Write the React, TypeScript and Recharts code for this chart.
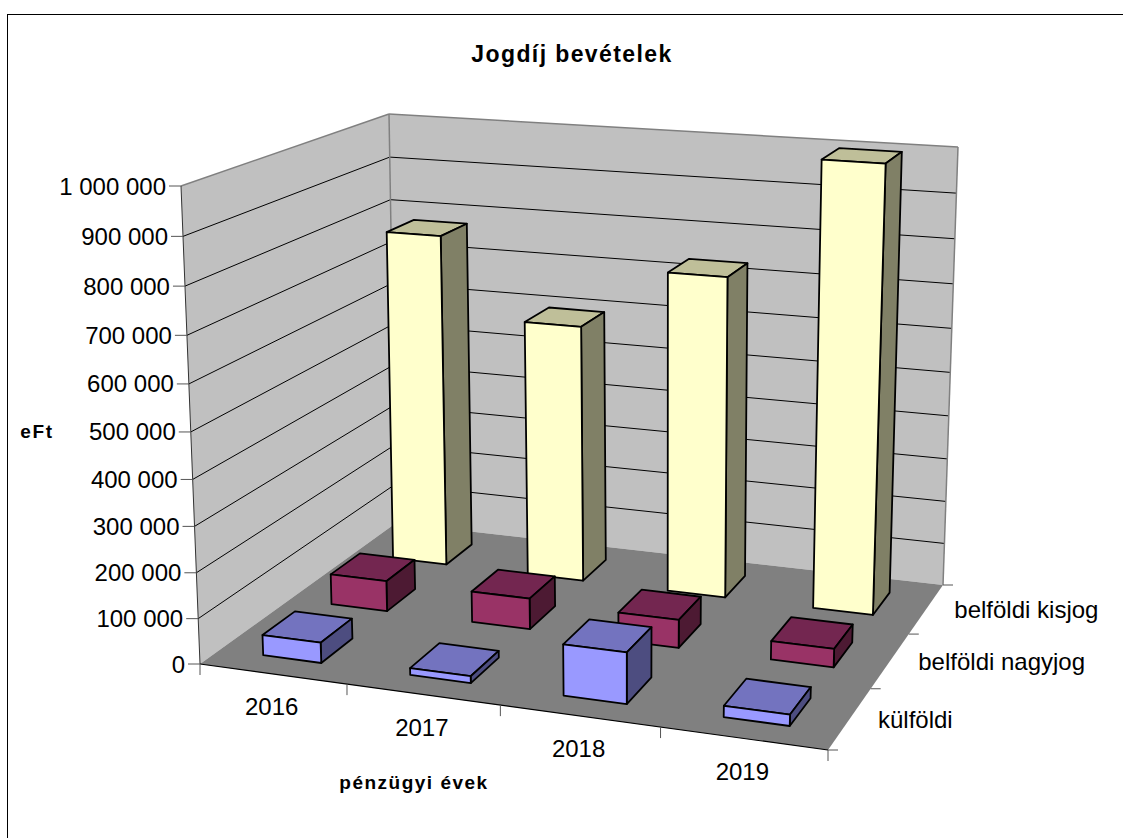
import React from 'react'
import { BarChart, Bar, XAxis, YAxis } from 'recharts'

const years = ['2016', '2017', '2018', '2019']
const kulfoldi = [45000, 15000, 110000, 24000]
const nagyjog = [70000, 70000, 63000, 41000]
const kisjog = [775000, 595000, 732000, 998000]
const valueTicks = [0, 100000, 200000, 300000, 400000, 500000, 600000, 700000, 800000, 900000, 1000000]
const seriesNames = ['külföldi', 'belföldi nagyjog', 'belföldi kisjog']

const data = years.map((year, i) => ({
  year,
  kulfoldi: kulfoldi[i],
  nagyjog: nagyjog[i],
  kisjog: kisjog[i],
}))

const W = 1123
const H = 838
const PLOT = { left: 100, top: 100, width: 900, height: 600 }
const MAX = 1000000
const FONT = 'Liberation Sans, Arial, sans-serif'
const LABEL_SIZE = 24

type Pt = [number, number]

// screen corners of the 3D box: u along years, v into depth
const FLOOR: Pt[] = [[200, 664], [828, 750], [943, 585], [396, 523]]
const TOP: Pt[] = [[181, 186], [846, 236], [958, 147], [389, 114]]

const quadMap = (q: Pt[]) => {
  const [[x0, y0], [x1, y1], [x2, y2], [x3, y3]] = q
  const sx = x0 - x1 + x2 - x3
  const sy = y0 - y1 + y2 - y3
  const dx1 = x1 - x2
  const dx2 = x3 - x2
  const dy1 = y1 - y2
  const dy2 = y3 - y2
  const den = dx1 * dy2 - dx2 * dy1
  const g = (sx * dy2 - dx2 * sy) / den
  const h = (dx1 * sy - sx * dy1) / den
  return (u: number, v: number): Pt => {
    const w = g * u + h * v + 1
    return [
      ((x1 - x0 + g * x1) * u + (x3 - x0 + h * x3) * v + x0) / w,
      ((y1 - y0 + g * y1) * u + (y3 - y0 + h * y3) * v + y0) / w,
    ]
  }
}

const floorAt = quadMap(FLOOR)
const topAt = quadMap(TOP)

// heights get slightly stretched towards the top, like the original perspective
const project = (u: number, v: number, h: number): Pt => {
  const a = floorAt(u, v)
  const b = topAt(u, v)
  const t = h / (1 + 0.06 * (1 - h))
  return [a[0] + (b[0] - a[0]) * t, a[1] + (b[1] - a[1]) * t]
}

const poly = (pts: Pt[]) => pts.map((p) => p.join(',')).join(' ')

const Seg = ({ a, b, stroke = '#000', w = 1 }: { a: Pt; b: Pt; stroke?: string; w?: number }) => (
  <line x1={a[0]} y1={a[1]} x2={b[0]} y2={b[1]} stroke={stroke} strokeWidth={w} />
)

const Walls = () => (
  <g>
    <polygon points={poly([project(0, 0, 0), project(0, 1, 0), project(0, 1, 1), project(0, 0, 1)])} fill="#C0C0C0" />
    <polygon points={poly([project(0, 1, 0), project(1, 1, 0), project(1, 1, 1), project(0, 1, 1)])} fill="#C0C0C0" />
    <polygon points={poly([project(0, 0, 0), project(1, 0, 0), project(1, 1, 0), project(0, 1, 0)])} fill="#808080" />
    {valueTicks.slice(1, -1).map((t) => (
      <g key={t}>
        <Seg a={project(0, 0, t / MAX)} b={project(0, 1, t / MAX)} />
        <Seg a={project(0, 1, t / MAX)} b={project(1, 1, t / MAX)} />
      </g>
    ))}
    <Seg a={project(0, 0, 1)} b={project(0, 1, 1)} stroke="#808080" w={1.5} />
    <Seg a={project(0, 1, 1)} b={project(1, 1, 1)} stroke="#808080" w={1.5} />
    <Seg a={project(0, 1, 0)} b={project(0, 1, 1)} stroke="#808080" w={1.5} />
    <Seg a={project(1, 1, 0)} b={project(1, 1, 1)} stroke="#808080" w={1.5} />
    <Seg a={project(0, 0, 0)} b={project(0, 0, 1)} stroke="#333" />
    <Seg a={project(0, 0, 0)} b={project(1, 0, 0)} stroke="#000" w={1.2} />
    {years.concat('').map((_, i) => {
      const p = project(i / years.length, 0, 0)
      return <Seg key={i} a={p} b={[p[0], p[1] + 11]} stroke="#555" />
    })}
    {seriesNames.concat('').map((_, i) => {
      const p = project(1, i / seriesNames.length, 0)
      return <Seg key={i} a={p} b={[p[0] + 10, p[1]]} stroke="#555" />
    })}
    {seriesNames.map((name, i) => {
      const p = project(1, (i + 0.5) / seriesNames.length, 0)
      return (
        <text key={name} x={p[0] + 28} y={p[1] + 1} fontFamily={FONT} fontSize={LABEL_SIZE} dominantBaseline="central" fill="#000">
          {name}
        </text>
      )
    })}
  </g>
)

const YearTick = ({ x, payload }: any) => {
  const [px, py] = project((x - PLOT.left) / PLOT.width, 0, 0)
  return (
    <text x={px - 1} y={py + 33} textAnchor="middle" dominantBaseline="central" fontFamily={FONT} fontSize={LABEL_SIZE} fill="#000">
      {payload.value}
    </text>
  )
}

const ValueTick = ({ y, payload }: any) => {
  const h = (PLOT.top + PLOT.height - y) / PLOT.height
  const [px, py] = project(0, 0, h)
  return (
    <g>
      <Seg a={[px - 12, py]} b={[px, py]} stroke="#555" />
      <text x={px - 15} y={py} textAnchor="end" dominantBaseline="central" fontFamily={FONT} fontSize={LABEL_SIZE} fill="#000">
        {String(payload.value).replace(/\B(?=(\d{3})+$)/g, ' ')}
      </text>
    </g>
  )
}

const box3d = (row: number, front: string, top: string, side: string) => (props: any) => {
  const { x, y, width } = props
  const u0 = (x - PLOT.left) / PLOT.width
  const u1 = (x + width - PLOT.left) / PLOT.width
  const h = (PLOT.top + PLOT.height - y) / PLOT.height
  const v0 = (row + 0.27) / seriesNames.length
  const v1 = (row + 0.73) / seriesNames.length
  return (
    <g stroke="#000" strokeWidth={1.8} strokeLinejoin="round">
      <polygon points={poly([project(u0, v0, h), project(u1, v0, h), project(u1, v1, h), project(u0, v1, h)])} fill={top} />
      <polygon points={poly([project(u1, v0, 0), project(u1, v1, 0), project(u1, v1, h), project(u1, v0, h)])} fill={side} />
      <polygon points={poly([project(u0, v0, 0), project(u1, v0, 0), project(u1, v0, h), project(u0, v0, h)])} fill={front} />
    </g>
  )
}

export default function App() {
  return (
    <div style={{ position: 'absolute', left: 0, top: 0, width: W, height: H, background: '#fff', overflow: 'hidden' }}>
      <BarChart
        width={W}
        height={H}
        data={data}
        barCategoryGap="30%"
        margin={{
          top: PLOT.top,
          left: PLOT.left - 1,
          right: W - PLOT.left - PLOT.width,
          bottom: H - PLOT.top - PLOT.height - 1,
        }}
      >
        <rect x={7.5} y={14.5} width={1200} height={900} fill="#fff" stroke="#000" strokeWidth={1} />
        <Walls />
        <text x={572} y={54} textAnchor="middle" dominantBaseline="central" fontFamily={FONT} fontSize={23} fontWeight="bold" letterSpacing={1.4}>
          Jogdíj bevételek
        </text>
        <text x={37} y={431} textAnchor="middle" dominantBaseline="central" fontFamily={FONT} fontSize={19} fontWeight="bold" letterSpacing={1.6}>
          eFt
        </text>
        <text x={414} y={782} textAnchor="middle" dominantBaseline="central" fontFamily={FONT} fontSize={19} fontWeight="bold" letterSpacing={1.5}>
          pénzügyi évek
        </text>
        <XAxis xAxisId="a" dataKey="year" height={1} interval={0} axisLine={false} tickLine={false} tick={<YearTick />} />
        <XAxis xAxisId="b" dataKey="year" hide />
        <XAxis xAxisId="c" dataKey="year" hide />
        <YAxis width={1} domain={[0, MAX]} ticks={valueTicks} interval={0} axisLine={false} tickLine={false} tick={<ValueTick />} />
        <Bar xAxisId="c" dataKey="kisjog" isAnimationActive={false} shape={box3d(2, '#FFFFCC', '#BFBF99', '#808066')} />
        <Bar xAxisId="b" dataKey="nagyjog" isAnimationActive={false} shape={box3d(1, '#993366', '#732650', '#4D1A33')} />
        <Bar xAxisId="a" dataKey="kulfoldi" isAnimationActive={false} shape={box3d(0, '#9999FF', '#7373BF', '#4D4D80')} />
      </BarChart>
    </div>
  )
}
